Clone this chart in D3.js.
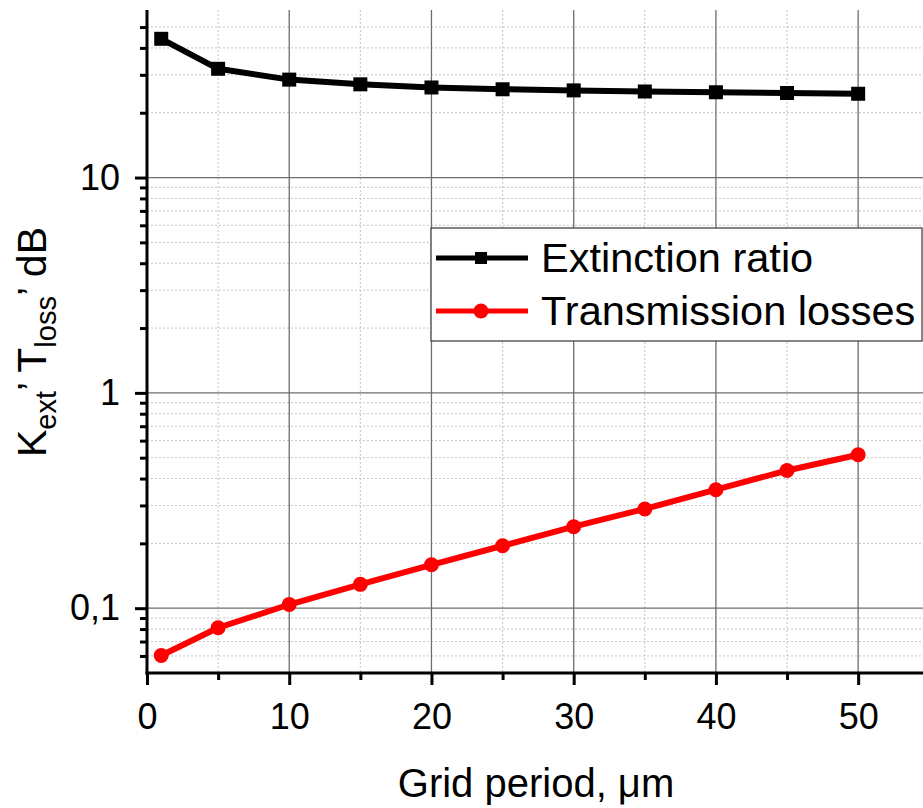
<!DOCTYPE html>
<html>
<head>
<meta charset="utf-8">
<script src="https://cdn.jsdelivr.net/npm/d3@7"></script>
<style>
  body { margin: 0; background: #fff; }
  svg { display: block; font-family: "Liberation Sans", Arial, sans-serif; }
</style>
</head>
<body>
<div id="chart"></div>
<script>
// grid period, um
const period = [1, 5, 10, 15, 20, 25, 30, 35, 40, 45, 50];
// extinction ratio, dB
const extinction = [44.1, 32.0, 28.5, 27.1, 26.2, 25.7, 25.4, 25.1, 24.9, 24.7, 24.5];
// transmission losses, dB
const losses = [0.0603, 0.0811, 0.104, 0.129, 0.159, 0.195, 0.239, 0.289, 0.355, 0.436, 0.516];

const xMajor = [0, 10, 20, 30, 40, 50];
const xMinor = [5, 15, 25, 35, 45];
const yMajor = [0.1, 1, 10];
const yMajorLabels = ["0,1", "1", "10"];
const yMinor = [0.06, 0.07, 0.08, 0.09, 0.2, 0.3, 0.4, 0.5, 0.6, 0.7, 0.8, 0.9,
  2, 3, 4, 5, 6, 7, 8, 9, 20, 30, 40, 50];

const seriesNames = ["Extinction ratio", "Transmission losses"];

const width = 923, height = 808;
const plotLeft = 147, plotRight = 925, plotTop = 10, plotBottom = 673;

const svg = d3.select("#chart").append("svg")
  .attr("width", width)
  .attr("height", height);

const x = d3.scaleLinear().domain([0, 54.7]).range([plotLeft, plotRight]);
const y = d3.scaleLog().domain([0.05, 60]).range([plotBottom, plotTop]);

// grid
const grid = svg.append("g");
grid.selectAll(".ymin").data(yMinor).join("line")
  .attr("x1", plotLeft).attr("x2", plotRight)
  .attr("y1", d => y(d)).attr("y2", d => y(d))
  .attr("stroke", "#c4c4c4").attr("stroke-width", 1).attr("stroke-dasharray", "2,2");
grid.selectAll(".xmin").data(xMinor).join("line")
  .attr("x1", d => x(d)).attr("x2", d => x(d))
  .attr("y1", plotTop).attr("y2", plotBottom)
  .attr("stroke", "#c4c4c4").attr("stroke-width", 1).attr("stroke-dasharray", "2,2");
grid.selectAll(".ymaj").data(yMajor).join("line")
  .attr("x1", plotLeft).attr("x2", plotRight)
  .attr("y1", d => y(d)).attr("y2", d => y(d))
  .attr("stroke", "#6e6e6e").attr("stroke-width", 1.3);
grid.selectAll(".xmaj").data(xMajor.slice(1)).join("line")
  .attr("x1", d => x(d)).attr("x2", d => x(d))
  .attr("y1", plotTop).attr("y2", plotBottom)
  .attr("stroke", "#6e6e6e").attr("stroke-width", 1.3);

// axes
const xAxis = svg.append("g").attr("transform", `translate(0,${plotBottom})`);
xAxis.call(d3.axisBottom(x).tickValues(xMajor).tickSize(12).tickPadding(18));
xAxis.append("g").call(d3.axisBottom(x).tickValues(xMinor).tickSize(7).tickFormat(""));
xAxis.selectAll(".domain").remove();
xAxis.selectAll("line").attr("stroke", "#000").attr("stroke-width", 3);
xAxis.selectAll("text").attr("font-size", 36).attr("fill", "#000")
  .attr("font-family", "Liberation Sans, Arial, sans-serif");
svg.append("line")
  .attr("x1", plotLeft - 1.5).attr("x2", width)
  .attr("y1", plotBottom).attr("y2", plotBottom)
  .attr("stroke", "#000").attr("stroke-width", 3);

const yAxis = svg.append("g").attr("transform", `translate(${plotLeft},0)`);
yAxis.call(d3.axisLeft(y).tickValues(yMajor).tickSize(12).tickPadding(15)
  .tickFormat((d, i) => yMajorLabels[i]));
yAxis.append("g").call(d3.axisLeft(y).tickValues(yMinor).tickSize(7).tickFormat(""));
yAxis.selectAll(".domain").remove();
yAxis.selectAll("line").attr("stroke", "#000").attr("stroke-width", 3);
yAxis.selectAll("text").attr("font-size", 36).attr("fill", "#000")
  .attr("font-family", "Liberation Sans, Arial, sans-serif");
svg.append("line")
  .attr("x1", plotLeft).attr("x2", plotLeft)
  .attr("y1", plotTop).attr("y2", plotBottom + 1.5)
  .attr("stroke", "#000").attr("stroke-width", 3);

// series
const line = d3.line().x(d => x(d[0])).y(d => y(d[1]));
const extPts = period.map((p, i) => [p, extinction[i]]);
const lossPts = period.map((p, i) => [p, losses[i]]);

svg.append("path").datum(extPts).attr("d", line)
  .attr("fill", "none").attr("stroke", "#000").attr("stroke-width", 6)
  .attr("stroke-linejoin", "round");
svg.append("g").selectAll("rect").data(extPts).join("rect")
  .attr("x", d => x(d[0]) - 7).attr("y", d => y(d[1]) - 7)
  .attr("width", 14).attr("height", 14).attr("fill", "#000");

svg.append("path").datum(lossPts).attr("d", line)
  .attr("fill", "none").attr("stroke", "#ff0000").attr("stroke-width", 6)
  .attr("stroke-linejoin", "round");
svg.append("g").selectAll("circle").data(lossPts).join("circle")
  .attr("cx", d => x(d[0])).attr("cy", d => y(d[1]))
  .attr("r", 7.5).attr("fill", "#ff0000");

// legend
const legend = svg.append("g");
legend.append("rect")
  .attr("x", 431).attr("y", 228).attr("width", 491).attr("height", 113)
  .attr("fill", "#fff").attr("stroke", "#444").attr("stroke-width", 1.3);
const legendRows = [
  { name: seriesNames[0], color: "#000", shape: "square", cy: 258 },
  { name: seriesNames[1], color: "#ff0000", shape: "circle", cy: 311 }
];
legendRows.forEach(r => {
  legend.append("line")
    .attr("x1", 436).attr("x2", 528).attr("y1", r.cy).attr("y2", r.cy)
    .attr("stroke", r.color).attr("stroke-width", 5);
  if (r.shape === "square") {
    legend.append("rect").attr("x", 481 - 6).attr("y", r.cy - 6)
      .attr("width", 12).attr("height", 12).attr("fill", r.color);
  } else {
    legend.append("circle").attr("cx", 481).attr("cy", r.cy).attr("r", 7.5)
      .attr("fill", r.color);
  }
  legend.append("text")
    .attr("x", 541).attr("y", r.cy + 14)
    .attr("font-size", 41.5).attr("fill", "#000")
    .text(r.name);
});

// axis titles
svg.append("text")
  .attr("x", 536).attr("y", 797)
  .attr("text-anchor", "middle").attr("font-size", 40)
  .text("Grid period, \u03bcm");

const yt = svg.append("text")
  .attr("transform", "translate(46,342) rotate(-90)")
  .attr("text-anchor", "middle").attr("font-size", 41);
yt.append("tspan").text("K");
yt.append("tspan").attr("font-size", 29).attr("dy", 10).text("ext");
yt.append("tspan").attr("dy", -10).text("\u2019 T");
yt.append("tspan").attr("font-size", 29).attr("dy", 10).text("loss");
yt.append("tspan").attr("dy", -10).text("\u2019 dB");
</script>
</body>
</html>
